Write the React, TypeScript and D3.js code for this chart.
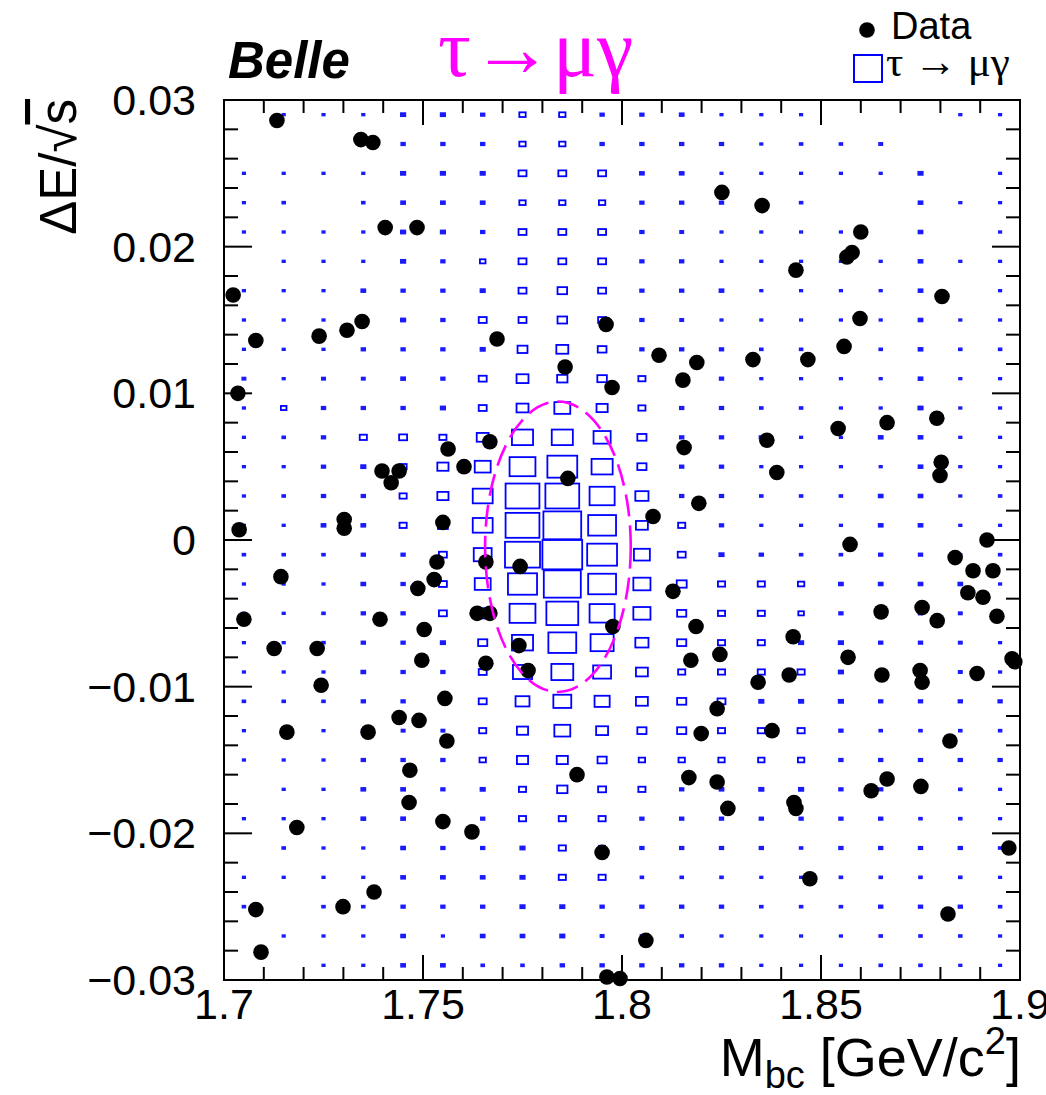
import React, { useEffect } from 'react';
import * as d3 from 'd3';

// bin centres of the signal MC histogram
const mbcBins = [1.705, 1.715, 1.725, 1.735, 1.745, 1.755, 1.765, 1.775, 1.785, 1.795,
  1.805, 1.815, 1.825, 1.835, 1.845, 1.855, 1.865, 1.875, 1.885, 1.895];
const deBins = [0.029, 0.027, 0.025, 0.023, 0.021, 0.019, 0.017, 0.015, 0.013, 0.011,
  0.009, 0.007, 0.005, 0.003, 0.001, -0.001, -0.003, -0.005, -0.007, -0.009,
  -0.011, -0.013, -0.015, -0.017, -0.019, -0.021, -0.023, -0.025, -0.027, -0.029];

// relative bin content (max = 100), one row per dE bin, top to bottom
const signalBoxes = [
  [0, 8, 8, 8, 13, 13, 11, 16, 16, 11, 11, 12, 8, 8, 8, 0, 0, 0, 8, 8],
  [0, 0, 0, 8, 11, 11, 11, 16, 16, 11, 11, 11, 11, 8, 9, 9, 10, 0, 0, 0],
  [8, 8, 8, 8, 13, 13, 13, 20, 20, 20, 12, 12, 8, 8, 8, 8, 8, 13, 0, 8],
  [8, 9, 0, 9, 12, 12, 12, 16, 16, 16, 11, 11, 11, 8, 9, 0, 0, 12, 8, 8],
  [8, 8, 8, 8, 13, 13, 11, 20, 20, 20, 11, 10, 8, 8, 8, 8, 0, 12, 0, 8],
  [0, 8, 8, 8, 13, 11, 14, 20, 20, 20, 11, 11, 8, 8, 8, 8, 8, 12, 8, 8],
  [8, 8, 8, 12, 11, 11, 13, 20, 24, 20, 11, 11, 12, 8, 8, 8, 8, 12, 0, 8],
  [8, 8, 8, 8, 13, 11, 20, 20, 24, 20, 11, 10, 8, 8, 8, 8, 8, 12, 8, 8],
  [8, 8, 8, 11, 11, 11, 13, 25, 30, 22, 11, 11, 11, 9, 9, 0, 9, 12, 9, 9],
  [10, 8, 10, 10, 12, 11, 20, 30, 26, 24, 18, 11, 11, 8, 8, 8, 8, 12, 8, 8],
  [8, 14, 11, 11, 11, 13, 20, 30, 40, 28, 18, 11, 11, 9, 9, 8, 8, 13, 8, 8],
  [8, 9, 11, 18, 20, 18, 30, 53, 53, 43, 23, 11, 11, 11, 8, 8, 12, 12, 8, 8],
  [8, 8, 11, 13, 18, 28, 40, 65, 75, 53, 23, 11, 11, 8, 8, 8, 8, 12, 8, 8],
  [8, 9, 11, 11, 18, 28, 50, 85, 85, 63, 33, 11, 11, 9, 9, 9, 12, 12, 8, 9],
  [8, 8, 12, 12, 18, 25, 50, 85, 95, 70, 30, 18, 11, 8, 8, 8, 12, 12, 8, 8],
  [9, 9, 9, 11, 11, 20, 45, 88, 100, 75, 40, 20, 13, 11, 9, 9, 11, 11, 8, 9],
  [8, 8, 8, 12, 11, 20, 40, 73, 93, 70, 43, 25, 18, 18, 16, 12, 12, 12, 12, 8],
  [8, 8, 9, 11, 11, 20, 35, 65, 80, 63, 43, 23, 18, 18, 14, 11, 11, 11, 10, 8],
  [8, 8, 9, 11, 11, 13, 23, 53, 70, 58, 33, 23, 18, 18, 13, 13, 11, 11, 10, 8],
  [8, 8, 8, 12, 11, 11, 20, 48, 55, 45, 30, 18, 18, 18, 18, 13, 11, 11, 10, 8],
  [9, 9, 9, 11, 11, 12, 20, 35, 45, 38, 30, 23, 20, 13, 13, 13, 11, 11, 11, 11],
  [8, 8, 8, 10, 10, 10, 18, 28, 40, 30, 23, 23, 18, 18, 18, 11, 9, 9, 9, 9],
  [8, 8, 8, 11, 11, 11, 16, 28, 28, 23, 16, 16, 16, 16, 16, 11, 11, 11, 11, 11],
  [0, 8, 8, 12, 12, 11, 13, 18, 26, 20, 18, 11, 12, 13, 13, 11, 11, 11, 9, 8],
  [8, 8, 8, 12, 12, 11, 11, 18, 18, 18, 11, 11, 11, 11, 11, 11, 11, 9, 9, 8],
  [0, 9, 8, 8, 12, 11, 11, 13, 18, 15, 11, 11, 11, 11, 9, 11, 11, 11, 11, 9],
  [8, 8, 8, 8, 12, 12, 12, 13, 18, 18, 9, 9, 9, 8, 8, 9, 9, 9, 9, 8],
  [9, 0, 9, 9, 11, 11, 11, 13, 13, 11, 11, 11, 11, 9, 9, 9, 11, 11, 11, 9],
  [0, 8, 8, 8, 12, 8, 12, 12, 13, 10, 9, 9, 8, 8, 8, 8, 9, 9, 9, 8],
  [0, 0, 8, 8, 12, 12, 9, 9, 11, 11, 11, 11, 11, 8, 8, 8, 9, 9, 8, 8],
];

// data events [Mbc, dE/sqrt(s)]
const dataPoints: [number, number][] = [
  [1.7133, 0.0286], [1.7344, 0.0273], [1.7374, 0.0271], [1.7405, 0.0213], [1.7485, 0.0213],
  [1.7023, 0.0167], [1.7080, 0.0136], [1.7239, 0.0139], [1.7309, 0.0143], [1.7347, 0.0149],
  [1.7686, 0.0137], [1.8251, 0.0237], [1.8352, 0.0228], [1.8600, 0.0210], [1.8578, 0.0196],
  [1.8565, 0.0193], [1.8437, 0.0184], [1.8804, 0.0166], [1.8598, 0.0151], [1.8558, 0.0132],
  [1.8329, 0.0123], [1.8467, 0.0123], [1.8188, 0.0121], [1.7960, 0.0147], [1.8093, 0.0126],
  [1.7857, 0.0118], [1.8153, 0.0109], [1.7975, 0.0104], [1.7035, 0.0100], [1.7668, 0.0067],
  [1.7563, 0.0062], [1.7603, 0.0050], [1.7397, 0.0047], [1.7440, 0.0047], [1.7420, 0.0039],
  [1.7302, 0.0014], [1.7302, 0.0008], [1.7038, 0.0007], [1.7550, 0.0012], [1.7658, -0.0015],
  [1.7535, -0.0015], [1.7143, -0.0025], [1.7528, -0.0027], [1.7487, -0.0033], [1.7050, -0.0054],
  [1.7392, -0.0054], [1.7636, -0.0050], [1.7668, -0.0050], [1.7503, -0.0061], [1.7126, -0.0074],
  [1.7234, -0.0074], [1.7497, -0.0082], [1.7658, -0.0084], [1.7864, 0.0042], [1.8078, 0.0016],
  [1.7744, -0.0018], [1.8128, -0.0035], [1.7977, -0.0059], [1.7741, -0.0072], [1.7764, -0.0089],
  [1.8666, 0.0080], [1.8791, 0.0083], [1.8543, 0.0076], [1.8156, 0.0063], [1.8364, 0.0068],
  [1.8389, 0.0046], [1.8802, 0.0053], [1.8799, 0.0044], [1.8193, 0.0025], [1.8573, -0.0003],
  [1.8917, 0.0000], [1.8837, -0.0012], [1.8882, -0.0021], [1.8932, -0.0021], [1.8869, -0.0036],
  [1.8907, -0.0039], [1.8651, -0.0049], [1.8754, -0.0046], [1.8792, -0.0055], [1.8942, -0.0052],
  [1.8186, -0.0059], [1.8430, -0.0066], [1.8173, -0.0082], [1.8246, -0.0078], [1.8568, -0.0080],
  [1.8980, -0.0081], [1.8987, -0.0083], [1.8342, -0.0097], [1.8420, -0.0092], [1.8653, -0.0092],
  [1.8749, -0.0089], [1.8754, -0.0097], [1.8892, -0.0091], [1.7244, -0.0099], [1.7555, -0.0108],
  [1.7440, -0.0121], [1.7490, -0.0123], [1.7158, -0.0131], [1.7362, -0.0131], [1.7560, -0.0137],
  [1.7467, -0.0157], [1.7887, -0.0160], [1.7465, -0.0179], [1.7183, -0.0196], [1.7550, -0.0192],
  [1.7623, -0.0199], [1.7950, -0.0213], [1.7377, -0.0240], [1.7080, -0.0252], [1.7299, -0.0250],
  [1.7093, -0.0281], [1.7962, -0.0298], [1.7995, -0.0299], [1.8239, -0.0115], [1.8199, -0.0132],
  [1.8377, -0.0130], [1.8824, -0.0137], [1.8168, -0.0162], [1.8239, -0.0165], [1.8266, -0.0183],
  [1.8432, -0.0179], [1.8437, -0.0183], [1.8626, -0.0171], [1.8666, -0.0163], [1.8751, -0.0168],
  [1.8972, -0.0210], [1.8472, -0.0231], [1.8819, -0.0255], [1.8060, -0.0273],
];

// signal region ellipse: centre Mbc, centre dE, half-width Mbc, half-width dE
const signalEllipse = [1.7839, -0.00046, 0.0183, 0.0099];

const xTickValues = [1.7, 1.75, 1.8, 1.85, 1.9];
const xTickLabels = ['1.7', '1.75', '1.8', '1.85', '1.9'];
const yTickValues = [0.03, 0.02, 0.01, 0, -0.01, -0.02, -0.03];
const yTickLabels = ['0.03', '0.02', '0.01', '0', '\u22120.01', '\u22120.02', '\u22120.03'];

const sans = '"Liberation Sans", Arial, Helvetica, sans-serif';
const serif = '"Liberation Serif", "DejaVu Serif", "Times New Roman", serif';

export default function App() {
  useEffect(() => {
    document.body.style.margin = '0';
  }, []);

  const x = d3.scaleLinear().domain([1.7, 1.9]).range([224, 1020]);
  const y = d3.scaleLinear().domain([-0.03, 0.03]).range([980, 100]);
  const binW = x(1.71) - x(1.7);
  const binH = y(0) - y(0.002);
  const size = d3.scaleLinear().domain([0, 100]).range([0, 1]);

  const xMinor = d3.range(0, 21).map(i => 1.7 + i * 0.01);
  const yMinor = d3.range(0, 31).map(i => -0.03 + i * 0.002);
  const isXMajor = (v: number) => Math.abs(v * 20 - Math.round(v * 20)) < 1e-6;
  const isYMajor = (v: number) => Math.abs(v * 100 - Math.round(v * 100)) < 1e-6;

  const [ecx, ecy, erx, ery] = signalEllipse;
  const sw = 1.8;

  return (
    <svg width={1046} height={1095} style={{ display: 'block', background: '#fff' }}>
      {/* signal MC boxes (small ones render as solid dots, like the original) */}
      <g stroke="#0000ff" strokeWidth={sw}>
        {signalBoxes.map((row, j) =>
          row.map((v, i) => {
            if (v <= 0) return null;
            const w = binW * size(v);
            const h = binH * size(v);
            const cx = x(mbcBins[i]);
            const cy = y(deBins[j]);
            if (w < 5.5) {
              return (
                <rect key={`${i}-${j}`} x={cx - w / 2 - 0.5} y={cy - h / 2 - 0.5}
                  width={w + 1} height={h + 1} fill="#1a1aff" stroke="none" />
              );
            }
            return (
              <rect key={`${i}-${j}`} x={cx - w / 2} y={cy - h / 2}
                width={w} height={h} fill="none" />
            );
          })
        )}
      </g>

      {/* data */}
      <g fill="#000">
        {dataPoints.map((d, k) => (
          <circle key={k} cx={x(d[0])} cy={y(d[1])} r={7.8} />
        ))}
      </g>

      {/* signal ellipse */}
      <ellipse cx={x(ecx)} cy={y(ecy)} rx={x(ecx + erx) - x(ecx)} ry={y(ecy - ery) - y(ecy)}
        fill="none" stroke="#f0f" strokeWidth={2.6} strokeDasharray="22 9" />

      {/* frame and ticks */}
      <g stroke="#000" strokeWidth={2}>
        <rect x={224} y={100} width={796} height={880} fill="none" />
        {xMinor.map((v, k) => {
          const len = isXMajor(v) ? 25 : 13;
          return (
            <g key={k}>
              <line x1={x(v)} x2={x(v)} y1={980} y2={980 - len} />
              <line x1={x(v)} x2={x(v)} y1={100} y2={100 + len} />
            </g>
          );
        })}
        {yMinor.map((v, k) => {
          const len = isYMajor(v) ? 28 : 14;
          return (
            <g key={k}>
              <line x1={224} x2={224 + len} y1={y(v)} y2={y(v)} />
              <line x1={1020} x2={1020 - len} y1={y(v)} y2={y(v)} />
            </g>
          );
        })}
      </g>

      {/* tick labels */}
      <g fontFamily={sans} fontSize={43} fill="#000">
        {xTickValues.map((v, k) => (
          <text key={k} x={x(v)} y={1019} textAnchor="middle">{xTickLabels[k]}</text>
        ))}
        {yTickValues.map((v, k) => (
          <text key={k} x={196} y={y(v) + 15} textAnchor="end">{yTickLabels[k]}</text>
        ))}
      </g>

      {/* axis titles */}
      <text x={1021} y={1076} textAnchor="end" fontFamily={sans} fontSize={54} fill="#000">
        M<tspan fontSize={38} dy={12}>bc</tspan>
        <tspan dy={-12}> [GeV/c</tspan>
        <tspan fontSize={38} dy={-22}>2</tspan>
        <tspan dy={22}>]</tspan>
      </text>
      <text transform="translate(76,99) rotate(-90)" textAnchor="end" fontFamily={sans}
        fontSize={51} fill="#000">
        ΔE/√<tspan textDecoration="overline">s</tspan>
      </text>

      {/* labels */}
      <text x={228} y={78} fontFamily={sans} fontSize={51} fontWeight="bold" fontStyle="italic"
        fill="#000">Belle</text>
      <text x={438} y={76} fontFamily={serif} fontSize={82} fill="#ff00ff">τ→μγ</text>

      {/* legend */}
      <circle cx={867} cy={30} r={7.8} fill="#000" />
      <text x={891} y={39} fontFamily={sans} fontSize={38} fill="#000">Data</text>
      <rect x={854} y={55} width={28} height={27} fill="none" stroke="#0000ff" strokeWidth={2} />
      <text x={886} y={76} fontFamily={serif} fontSize={43} fill="#000">τ → μγ</text>
    </svg>
  );
}
